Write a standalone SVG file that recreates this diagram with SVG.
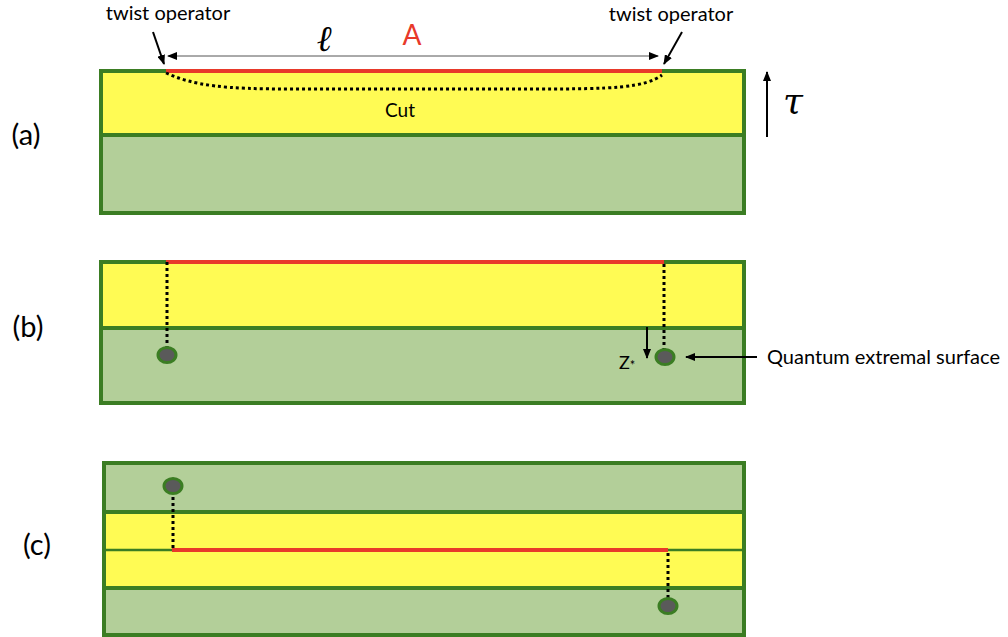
<svg xmlns="http://www.w3.org/2000/svg" width="1008" height="637" viewBox="0 0 1008 637">
<style>
.y{fill:#fffb54}
.g{fill:#b3cf99}
.bd{fill:none;stroke:#3b7d23;stroke-width:4}
.dv{stroke:#3b7d23;stroke-width:4}
.red{stroke:#e8392a;stroke-width:4;fill:none}
.dot{stroke:#000;stroke-width:3;stroke-dasharray:3 3;fill:none}
.qes{fill:#5a5a5a;stroke:#3b7d23;stroke-width:3}
.t{font-family:Lato,"Open Sans","Liberation Sans",sans-serif;fill:#000}
.ar{stroke:#000;stroke-width:2;fill:none}
</style>
<defs>
<marker id="ah" markerWidth="10" markerHeight="8" refX="9" refY="4" orient="auto" markerUnits="userSpaceOnUse"><path d="M0,0 L10,4 L0,8 Z" fill="#000"/></marker>
<marker id="ahs" markerWidth="10" markerHeight="8" refX="9" refY="4" orient="auto-start-reverse" markerUnits="userSpaceOnUse"><path d="M0,0 L10,4 L0,8 Z" fill="#000"/></marker>
</defs>
<g id="panel-a">
<rect x="101" y="71" width="643" height="64" class="y"/>
<rect x="101" y="135" width="643" height="78" class="g"/>
<rect x="101" y="71" width="643" height="142" class="bd"/>
<line x1="101" y1="135" x2="744" y2="135" class="dv"/>
<line x1="166" y1="71" x2="662" y2="71" class="red"/>
<path d="M166,73 C195,86 225,89 290,89 L540,89 C610,89 645,88 662,75" class="dot"/>
<text x="400" y="117" class="t" font-size="19" text-anchor="middle">Cut</text>
<text x="26" y="145" class="t" font-size="29" text-anchor="middle">(a)</text>
</g>
<g id="labels-a">
<text x="168" y="20" class="t" font-size="20" text-anchor="middle">twist operator</text>
<text x="671" y="21" class="t" font-size="20" text-anchor="middle">twist operator</text>
<text x="324" y="51" font-family="Liberation Serif,serif" font-style="italic" font-size="36" text-anchor="middle">ℓ</text>
<text x="412" y="45" font-family="Lato,sans-serif" font-size="28" fill="#e8392a" text-anchor="middle">A</text>
<text x="793" y="113" font-family="DejaVu Serif,serif" font-style="italic" font-size="36" text-anchor="middle">τ</text>
</g>
<g id="panel-b">
<rect x="101" y="262" width="643" height="66" class="y"/>
<rect x="101" y="328" width="643" height="75" class="g"/>
<rect x="101" y="262" width="643" height="141" class="bd"/>
<line x1="101" y1="328" x2="744" y2="328" class="dv"/>
<line x1="166" y1="262" x2="664" y2="262" class="red"/>
<line x1="167" y1="262" x2="167" y2="354" class="dot"/>
<line x1="664" y1="264" x2="664" y2="352" class="dot"/>
<ellipse cx="167" cy="355" rx="9" ry="7.5" class="qes"/>
<ellipse cx="665" cy="357" rx="9" ry="7.5" class="qes"/>
<text x="619" y="369" class="t" font-size="18">Z<tspan font-size="13" dy="1">*</tspan></text>
<text x="767" y="364" class="t" font-size="20">Quantum extremal surface</text>
<text x="28" y="337" class="t" font-size="29" text-anchor="middle">(b)</text>
</g>
<g id="panel-c">
<rect x="104" y="463" width="640" height="49" class="g"/>
<rect x="104" y="512" width="640" height="76" class="y"/>
<rect x="104" y="588" width="640" height="47" class="g"/>
<rect x="104" y="463" width="640" height="172" class="bd"/>
<line x1="104" y1="512" x2="744" y2="512" class="dv"/>
<line x1="104" y1="550" x2="744" y2="550" stroke="#3b7d23" stroke-width="2.5"/>
<line x1="104" y1="588" x2="744" y2="588" class="dv"/>
<line x1="172" y1="550" x2="668" y2="550" class="red"/>
<line x1="173" y1="548" x2="173" y2="494" class="dot"/>
<line x1="668" y1="553" x2="668" y2="598" class="dot"/>
<ellipse cx="173" cy="486" rx="9" ry="7.5" class="qes"/>
<ellipse cx="668" cy="606" rx="9" ry="7.5" class="qes"/>
<text x="37" y="555" class="t" font-size="29" text-anchor="middle">(c)</text>
</g>
<g id="connectors">
<line x1="168" y1="56" x2="658" y2="56" stroke="#555" stroke-width="1" marker-start="url(#ahs)" marker-end="url(#ah)"/>
<line x1="153" y1="32" x2="164" y2="64" class="ar" marker-end="url(#ah)"/>
<line x1="682" y1="32" x2="664" y2="64" class="ar" marker-end="url(#ah)"/>
<line x1="767" y1="137" x2="767" y2="72" class="ar" marker-end="url(#ah)"/>
<line x1="647" y1="327" x2="647" y2="358" class="ar" marker-end="url(#ah)"/>
<line x1="757" y1="357" x2="686" y2="357" class="ar" marker-end="url(#ah)"/>
</g>
</svg>
